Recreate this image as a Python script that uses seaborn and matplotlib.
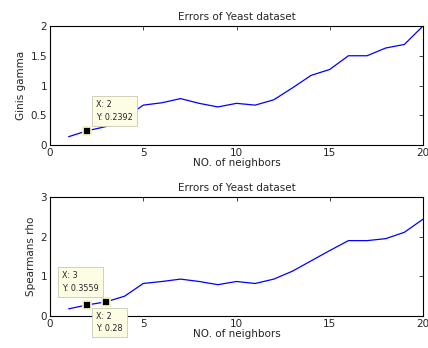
import matplotlib
matplotlib.use("Agg")
import matplotlib.pyplot as plt
import seaborn as sns
import pandas as pd

neighbors = list(range(1, 21))
ginis_gamma = [0.14, 0.2392, 0.31, 0.45, 0.67, 0.71, 0.78, 0.70, 0.64, 0.70,
               0.67, 0.76, 0.96, 1.17, 1.27, 1.50, 1.50, 1.63, 1.69, 2.00]
spearmans_rho = [0.18, 0.28, 0.3559, 0.50, 0.82, 0.87, 0.93, 0.87, 0.79, 0.87,
                 0.82, 0.93, 1.13, 1.39, 1.65, 1.90, 1.90, 1.95, 2.11, 2.44]
title = "Errors of Yeast dataset"
xlabel = "NO. of neighbors"
ylabels = ["Ginis gamma", "Spearmans rho"]
yticks_top = [0, 0.5, 1, 1.5, 2]
yticks_bot = [0, 1, 2, 3]
xticks = [0, 5, 10, 15, 20]

sns.set_style("white")
plt.rcParams['font.family'] = ['DejaVu Sans']

fig = plt.figure(figsize=(4.28, 3.48), dpi=100)
ax1 = fig.add_axes([50/428, 1-145/348, 373/428, 119/348])
ax2 = fig.add_axes([50/428, 1-316/348, 373/428, 119/348])

df = pd.DataFrame({"n": neighbors, "g": ginis_gamma, "s": spearmans_rho})

for ax, col, ylab, yt, ylim in [(ax1, "g", ylabels[0], yticks_top, (0, 2)),
                                (ax2, "s", ylabels[1], yticks_bot, (0, 3))]:
    sns.lineplot(data=df, x="n", y=col, ax=ax, color="#0000ff", linewidth=0.9)
    ax.set_xlim(0, 20)
    ax.set_ylim(*ylim)
    ax.set_xticks(xticks)
    ax.set_yticks(yt)
    ax.set_yticklabels([f"{v:g}" for v in yt])
    ax.set_title(title, fontsize=7.5, pad=4)
    ax.set_xlabel(xlabel, fontsize=7.5, labelpad=0.5)
    ax.set_ylabel(ylab, fontsize=7.5, labelpad=3)
    ax.tick_params(direction="in", length=3, width=0.6, labelsize=7.5,
                   top=True, right=True, pad=2)
    for sp in ax.spines.values():
        sp.set_linewidth(0.8)
        sp.set_color("black")

def datatip(ax, x, y, dx, dy, ha, va):
    ax.plot([x], [y], marker="s", color="black", markersize=5.5,
            markeredgecolor="#f3f3c0", markeredgewidth=1.3, zorder=5,
            clip_on=False)
    ax.annotate(f"X: {x}\nY: {y:g}", xy=(x, y), xytext=(dx, dy),
                textcoords="offset pixels", ha=ha, va=va, fontsize=5.8,
                multialignment="left",
                linespacing=1.5, annotation_clip=False, zorder=6,
                bbox=dict(boxstyle="square,pad=0.5", fc="#fdfde4",
                          ec="#c8c8b4", lw=0.6))

datatip(ax1, neighbors[1], ginis_gamma[1], 9, 9, "left", "bottom")
datatip(ax2, neighbors[2], spearmans_rho[2], -7, 9, "right", "bottom")
datatip(ax2, neighbors[1], spearmans_rho[1], 9, -7, "left", "top")

fig.savefig("out.png", dpi=100)
